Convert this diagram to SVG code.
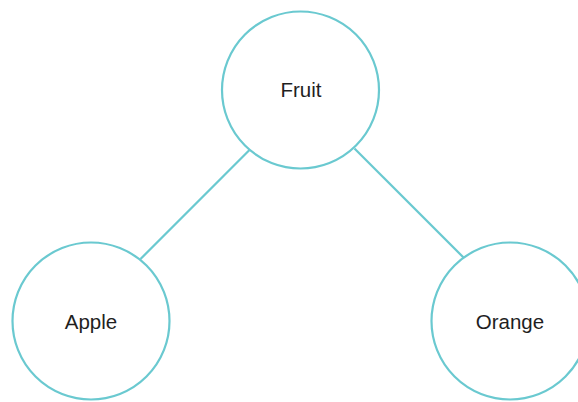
<svg xmlns="http://www.w3.org/2000/svg" width="578" height="402" viewBox="0 0 578 402">
<style>
.node circle{fill:#ffffff;stroke:#6ac9d0;stroke-width:2.2}
.node text{font-family:"Liberation Sans",Arial,sans-serif;font-size:20.5px;fill:#1f1f1f;text-anchor:middle}
.edge{stroke:#6ac9d0;stroke-width:2.2;fill:none}
</style>
<rect width="578" height="402" fill="#ffffff"/>
<g id="connectors">
<line class="edge" x1="249.5" y1="150" x2="140.5" y2="259"/>
<line class="edge" x1="354.5" y1="148.5" x2="463.5" y2="257.5"/>
</g>
<g id="fruit" class="node">
<circle cx="300.5" cy="90" r="78.5"/>
<text x="301" y="97.3">Fruit</text>
</g>
<g id="apple" class="node">
<circle cx="91" cy="321" r="78.5"/>
<text x="91" y="329.3">Apple</text>
</g>
<g id="orange" class="node">
<circle cx="510" cy="321" r="78.5"/>
<text x="510" y="329.3">Orange</text>
</g>
</svg>
